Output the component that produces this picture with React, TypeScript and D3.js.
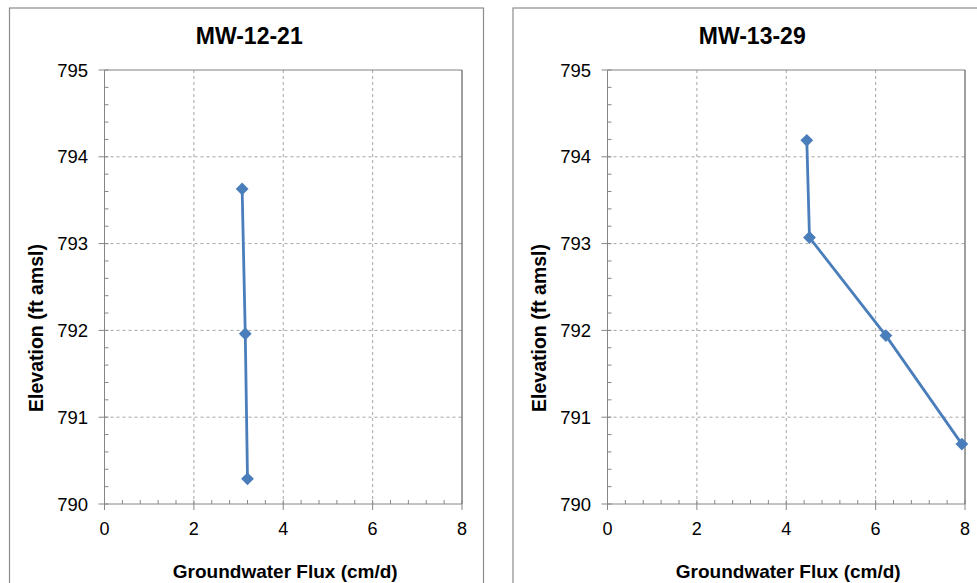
import React from 'react';
import * as d3 from 'd3';

// flux readings per well (cm/d) against elevation (ft amsl)
const wells = ['MW-12-21', 'MW-13-29'];
const fluxA = [3.08, 3.15, 3.2];
const elevA = [793.63, 791.96, 790.29];
const fluxB = [4.46, 4.52, 6.23, 7.93];
const elevB = [794.19, 793.07, 791.94, 790.69];
const xTicks = [0, 2, 4, 6, 8];
const yTicks = [790, 791, 792, 793, 794, 795];

const W = 977;
const H = 583;
const FONT = '"Liberation Sans", Arial, sans-serif';
const BLUE = '#4a7ebb';

type PanelProps = { title: string; flux: number[]; elev: number[]; frameX: number; plotLeft: number };

function Panel({ title, flux, elev, frameX, plotLeft }: PanelProps) {
	const plotRight = plotLeft + 357.5;
	const top = 70;
	const bottom = 504;
	const x = d3.scaleLinear().domain([0, 8]).range([plotLeft, plotRight]);
	const y = d3.scaleLinear().domain([790, 795]).range([bottom, top]);
	const pts: [number, number][] = flux.map((f, i) => [f, elev[i]]);
	const line = d3.line<[number, number]>().x(d => x(d[0])).y(d => y(d[1]));
	const diamond = d3.symbol().type(d3.symbolDiamond2).size(105)();
	const minorX = d3.range(0, 8.001, 0.4);
	const minorY = d3.range(790, 795.001, 0.2);
	const cx = (plotLeft + plotRight) / 2;

	return (
		<g>
			<rect x={frameX} y={8} width={474} height={600} fill="#fff" stroke="#8c8c8c" strokeWidth={1.2} />
			<text x={cx - 34} y={44} textAnchor="middle" fontFamily={FONT} fontWeight="bold" fontSize={23}>{title}</text>

			{/* grid */}
			{xTicks.slice(1, -1).map(t => (
				<line key={'gx' + t} x1={x(t)} x2={x(t)} y1={top} y2={bottom} stroke="#a6a6a6" strokeDasharray="3,3" />
			))}
			{yTicks.slice(1, -1).map(t => (
				<line key={'gy' + t} x1={plotLeft} x2={plotRight} y1={y(t)} y2={y(t)} stroke="#a6a6a6" strokeDasharray="3,3" />
			))}
			<line x1={plotLeft} x2={plotRight} y1={top} y2={top} stroke="#808080" />
			<line x1={plotRight} x2={plotRight} y1={top} y2={bottom} stroke="#404040" />

			{/* axes */}
			<line x1={plotLeft} x2={plotLeft} y1={top} y2={bottom} stroke="#868686" />
			<line x1={plotLeft} x2={plotRight} y1={bottom} y2={bottom} stroke="#868686" />
			{minorX.map(t => (
				<line key={'mx' + t} x1={x(t)} x2={x(t)} y1={bottom} y2={bottom - 4} stroke="#868686" />
			))}
			{minorY.map(t => (
				<line key={'my' + t} x1={plotLeft} x2={plotLeft + 4} y1={y(t)} y2={y(t)} stroke="#868686" />
			))}
			{xTicks.map(t => (
				<g key={'tx' + t}>
					<line x1={x(t)} x2={x(t)} y1={bottom} y2={bottom + 6} stroke="#868686" />
					<text x={x(t)} y={535} textAnchor="middle" fontFamily={FONT} fontSize={18}>{t}</text>
				</g>
			))}
			{yTicks.map(t => (
				<g key={'ty' + t}>
					<line x1={plotLeft - 6} x2={plotLeft} y1={y(t)} y2={y(t)} stroke="#868686" />
					<text x={plotLeft - 16.5} y={y(t) + 6.5} textAnchor="end" fontFamily={FONT} fontSize={18.5}>{t}</text>
				</g>
			))}

			<text x={cx + 2} y={578} textAnchor="middle" fontFamily={FONT} fontWeight="bold" fontSize={19}>Groundwater Flux (cm/d)</text>
			<text transform={`translate(${plotLeft - 61.5},${328}) rotate(-90)`} textAnchor="middle"
				fontFamily={FONT} fontWeight="bold" fontSize={19.5}>Elevation (ft amsl)</text>

			{/* series */}
			<path d={line(pts) || ''} fill="none" stroke={BLUE} strokeWidth={2.8} />
			{pts.map((p, i) => (
				<path key={'m' + i} d={diamond || ''} transform={`translate(${x(p[0])},${y(p[1])})`} fill={BLUE} />
			))}
		</g>
	);
}

export default function App() {
	return (
		<svg width={W} height={H} style={{ display: 'block', position: 'absolute', left: 0, top: 0 }}>
			<rect width={W} height={H} fill="#fff" />
			<Panel title={wells[0]} flux={fluxA} elev={elevA} frameX={9.5} plotLeft={104.5} />
			<Panel title={wells[1]} flux={fluxB} elev={elevB} frameX={513} plotLeft={607.5} />
		</svg>
	);
}
